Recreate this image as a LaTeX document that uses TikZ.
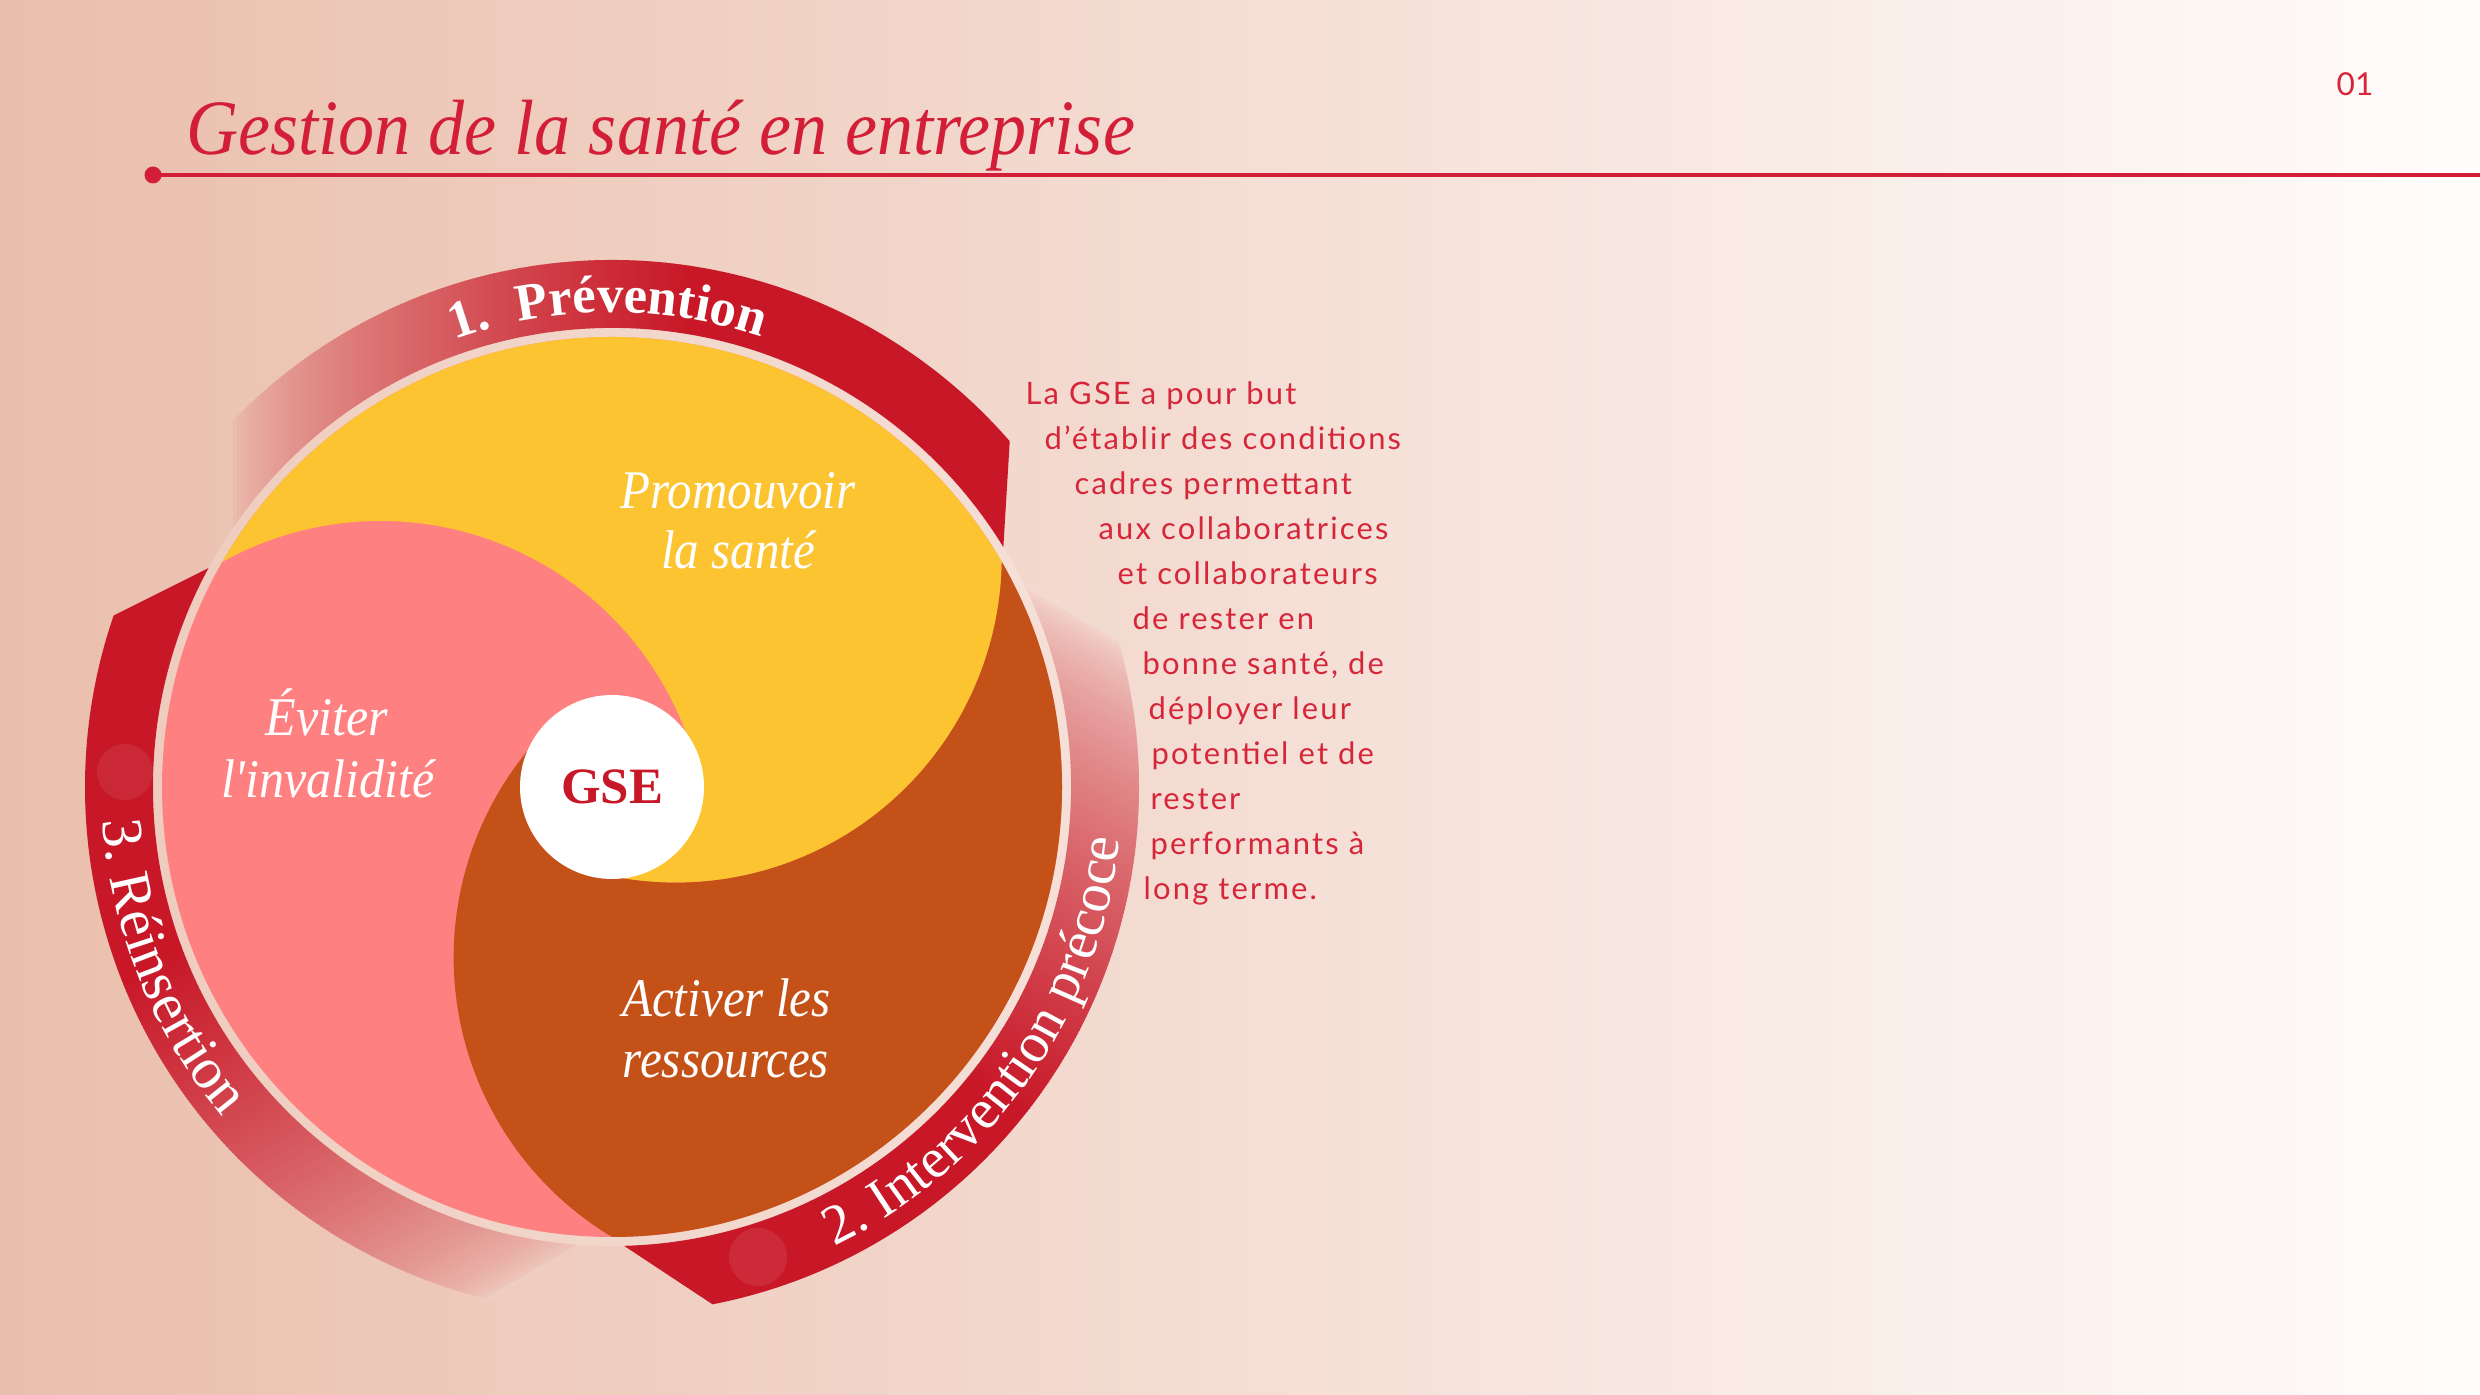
\documentclass[tikz,border=0pt]{standalone}
\usepackage{fontspec}
\setmainfont{Liberation Serif}
\newfontfamily\descface[LetterSpace=7]{Lato}
\newfontfamily\numface{Lato}
\usepackage{tikz}
\usetikzlibrary{decorations.text}

\definecolor{bgL}{RGB}{234,190,172}
\definecolor{bgR}{RGB}{255,253,252}
\definecolor{ringred}{RGB}{200,24,40}
\definecolor{titlered}{RGB}{210,30,55}
\definecolor{textred}{RGB}{214,38,58}
\definecolor{swyellow}{RGB}{252,196,48}
\definecolor{swpink}{RGB}{255,128,128}
\definecolor{sworange}{RGB}{196,82,24}
\definecolor{fadeA}{RGB}{236,196,180}
\definecolor{fadeB}{RGB}{243,218,208}
\definecolor{fadeC}{RGB}{239,205,191}

\tikzset{
  lbl/.style={text=white, inner sep=0pt, anchor=base, font=\itshape\fontsize{15.5}{18}\selectfont},
  desc/.style={text=textred, inner sep=0pt, anchor=base west, font=\descface\fontsize{8.8}{10}\selectfont},
  hub/.style={circle, fill=white, minimum size=1.84cm, inner sep=0pt, text=ringred, font=\bfseries\fontsize{14.5}{17}\selectfont},
  ringtext/.style={decorate, decoration={text along path, text align=center, text color=white, text={#1}}}
}

\begin{document}
\begin{tikzpicture}
\useasboundingbox (0,0) rectangle (24.8,13.95);
\shade[left color=bgL, right color=bgR] (0,0) rectangle (24.8,13.95);

% title
\node[anchor=base west, inner sep=0pt, text=titlered, font=\itshape\fontsize{22.3}{26}\selectfont] (title) at (1.857,12.40) {\scalebox{0.92}[1]{Gestion de la santé en entreprise}};
\coordinate (dot) at (1.53,12.20);
\coordinate (lineend) at (24.8,12.20);
\draw[titlered, line width=0.9pt] (dot) -- (lineend);
\fill[titlered] (dot) circle (0.085);
\node[inner sep=0pt, text=textred, font=\numface\fontsize{9}{11}\selectfont] (pagenum) at (23.55,13.11) {01};

\begin{scope}[shift={(6.12,6.08)}]
% ring segments, fading in from their start
\foreach \rot/\bgc in {0/fadeA, -120/fadeB, -240/fadeC}{
  \begin{scope}[rotate=\rot]
    \clip (41:5.27) arc[start angle=41, end angle=150, radius=5.27] -- (150:4.59) arc[start angle=150, end angle=31.5, radius=4.59] -- cycle;
    \foreach \k in {0,...,114}{
      \pgfmathsetmacro\xa{-3.83+0.04*\k}
      \pgfmathsetmacro\pc{100*(\k/114)^0.65}
      \fill[ringred!\pc!\bgc] (\xa,-5.5) rectangle ({\xa+0.05},5.5);
    }
    \fill[ringred] (0.77,-5.5) rectangle (5.5,5.5);
  \end{scope}
}
\fill[white, opacity=0.07] (-4.87,0.15) circle (0.28);
\fill[white, opacity=0.08] (1.46,-4.70) circle (0.29);

% swirl
\fill[white, opacity=0.18] (0,0) circle (4.59);
\begin{scope}
  \clip (0,0) circle (4.50);
  \fill[swpink] (0,0) circle (4.6);
  \fill[swyellow] (-3.993,2.195) arc[start angle=121, end angle=14.5, radius=3.26] -- (0,0) -- (-0.233,-0.838) arc[start angle=254.5, end angle=361, radius=3.26] -- (31.2:5) arc[start angle=31.2, end angle=151.2, radius=5] -- cycle;
  \fill[sworange] (0.096,-4.555) arc[start angle=241, end angle=134.5, radius=3.26] -- (0,0) -- (-0.233,-0.838) arc[start angle=254.5, end angle=361, radius=3.26] -- (31.2:5) arc[start angle=31.2, end angle=-88.8, radius=5] -- cycle;
\end{scope}
\node[hub] (gse) at (0,0) {GSE};

\node[lbl] (promo) at (1.26,2.783) {\scalebox{0.9}[1]{Promouvoir}};
\node[lbl] (promob) at (1.26,2.187) {\scalebox{0.9}[1]{la santé}};
\node[lbl] (eviter) at (-2.85,0.51) {\scalebox{0.92}[1]{Éviter}};
\node[lbl] (eviterb) at (-2.84,-0.107) {\scalebox{0.92}[1]{l\textquotesingle invalidité}};
\node[lbl] (activer) at (1.144,-2.296) {\scalebox{0.9}[1]{Activer les}};
\node[lbl] (activerb) at (1.14,-2.91) {\scalebox{0.9}[1]{ressources}};

% ring labels
\path[ringtext={|\bfseries\fontsize{15}{18}\selectfont|1.}] (118:4.745) arc[start angle=118, end angle=96, radius=4.745];
\path[ringtext={|\bfseries\fontsize{15}{18}\selectfont|Prévention}] (115:4.745) arc[start angle=115, end angle=58, radius=4.745];
\path[ringtext={|\fontsize{16}{19}\selectfont|2. Intervention précoce}] (-80:5.1) arc[start angle=-80, end angle=10, radius=5.1];
\path[ringtext={|\fontsize{16.5}{19}\selectfont|3. Réinsertion}] (169:5.1) arc[start angle=169, end angle=235, radius=5.1];
\end{scope}

% text on the right
\foreach \xx/\txt [count=\i] in {10.25/{La GSE a pour but}, 10.44/{d’établir des conditions}, 10.74/{cadres permettant}, 10.98/{aux collaboratrices}, 11.17/{et collaborateurs}, 11.32/{de rester en}, 11.42/{bonne santé, de}, 11.48/{déployer leur}, 11.51/{potentiel et de}, 11.50/{rester}, 11.50/{performants à}, 11.43/{long terme.}}
  \node[desc] (desc\i) at (\xx,{9.90-0.45*(\i-1)}) {\txt};
\end{tikzpicture}
\end{document}
